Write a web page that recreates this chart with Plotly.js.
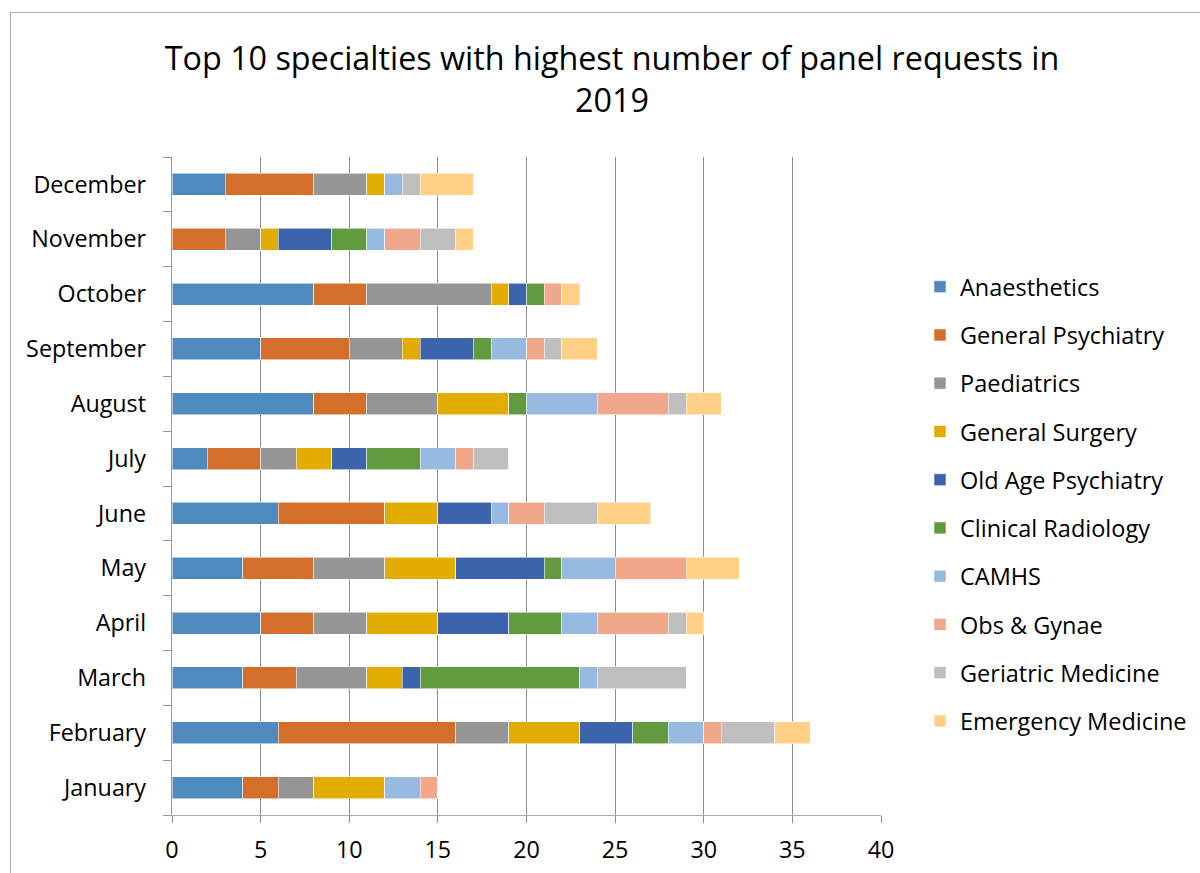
<!DOCTYPE html>
<html><head><meta charset="utf-8">
<script src="https://cdn.plot.ly/plotly-3.0.1.min.js"></script>
<style>
html,body{margin:0;padding:0;background:#fff;overflow:hidden;}
#frame{position:absolute;left:10px;top:12px;width:1300px;height:1000px;border:1px solid #b0b0b0;pointer-events:none;}
#chart{position:absolute;left:0;top:0;width:1200px;height:873px;}
</style></head>
<body>
<div id="chart"></div>
<div id="frame"></div>
<script>
const months = ["January","February","March","April","May","June","July","August","September","October","November","December"];
const specialties = ["Anaesthetics","General Psychiatry","Paediatrics","General Surgery","Old Age Psychiatry","Clinical Radiology","CAMHS","Obs & Gynae","Geriatric Medicine","Emergency Medicine"];
const colors = ["#4F8ABE","#D46E2A","#959595","#E2AC00","#3C64AD","#629A3F","#98B9E0","#F1A88A","#BFBFBF","#FFD086"];
// values per specialty, Jan..Dec
const anaesthetics      = [4,6,4,5,4,6,2,8,5,8,0,3];
const generalPsychiatry = [2,10,3,3,4,6,3,3,5,3,3,5];
const paediatrics       = [2,3,4,3,4,0,2,4,3,7,2,3];
const generalSurgery    = [4,4,2,4,4,3,2,4,1,1,1,1];
const oldAgePsychiatry  = [0,3,1,4,5,3,2,0,3,1,3,0];
const clinicalRadiology = [0,2,9,3,1,0,3,1,1,1,2,0];
const camhs             = [2,2,1,2,3,1,2,4,2,0,1,1];
const obsGynae          = [1,1,0,4,4,2,1,4,1,1,2,0];
const geriatricMedicine = [0,3,5,1,0,3,2,1,1,0,2,1];
const emergencyMedicine = [0,2,0,1,3,3,0,2,2,1,1,3];
const series = [anaesthetics,generalPsychiatry,paediatrics,generalSurgery,oldAgePsychiatry,clinicalRadiology,camhs,obsGynae,geriatricMedicine,emergencyMedicine];
const xTicks = [0,5,10,15,20,25,30,35,40];

const FONT = "'Open Sans', Lato, sans-serif";
const traces = series.map((vals,i)=>({
  type:'bar', orientation:'h', name:specialties[i], y:months, x:vals,
  legendgroup:'g'+i,
  marker:{color:colors[i], line:{color:'rgba(255,255,255,0.55)', width:1}},
  hoverinfo:'x+name'
}));
const layout = {
  width:1200, height:873,
  margin:{l:172, r:319, t:157, b:58, autoexpand:false},
  paper_bgcolor:'rgba(0,0,0,0)', plot_bgcolor:'#fff',
  barmode:'stack', bargap:0.6,
  font:{family:FONT, color:'#000', size:23},
  title:{text:'Top 10 specialties with highest number of panel requests in<br>2019', x:0.51, xref:'container', y:0.92, yref:'container', yanchor:'top', font:{family:FONT, size:32.3, color:'#000'}},
  xaxis:{range:[0,40], tickvals:xTicks, ticktext:xTicks.map(String), showgrid:true, gridcolor:'#8c8c8c', gridwidth:1.1,
         zeroline:false, showline:true, linecolor:'#ababab', linewidth:1.3, ticks:'outside', ticklen:7, tickcolor:'#8c8c8c', tickfont:{size:23.3}, ticklabelstandoff:7, fixedrange:true, automargin:false},
  yaxis:{type:'category', categoryarray:months, showgrid:false, showline:true, linecolor:'#999', linewidth:1.3, ticks:'outside', tickson:'boundaries', ticklen:8, tickcolor:'#999',
         tickfont:{size:23.3}, ticklabelstandoff:20, fixedrange:true, automargin:false},
  showlegend:true,
  legend:{x:1.055, xanchor:'left', y:0.836, yanchor:'top', traceorder:'grouped', tracegroupgap:14.7, font:{size:23.5}, bgcolor:'rgba(0,0,0,0)'}
};
Plotly.newPlot('chart', traces, layout, {displayModeBar:false, staticPlot:true});
</script>
</body></html>
